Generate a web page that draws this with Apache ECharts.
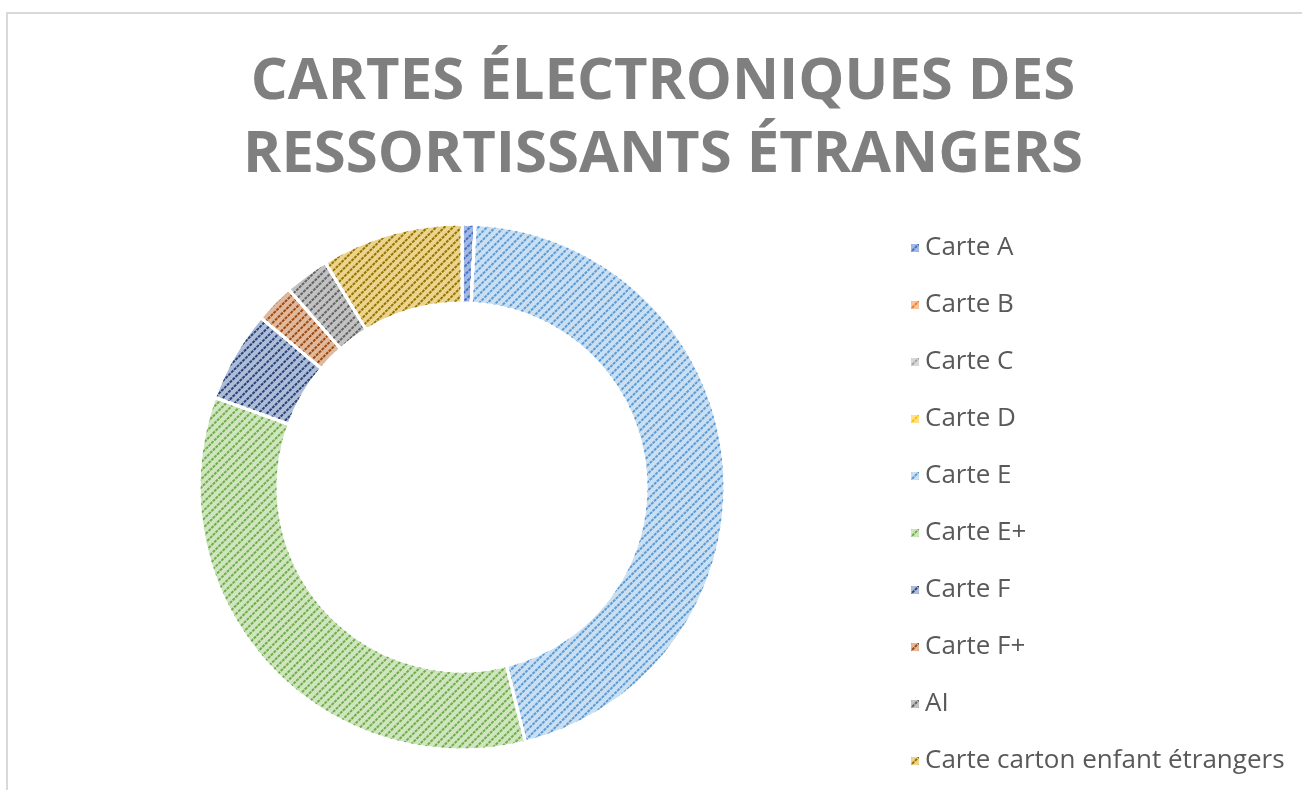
<!DOCTYPE html>
<html>
<head>
<meta charset="utf-8">
<script src="https://cdn.jsdelivr.net/npm/echarts@6/dist/echarts.min.js"></script>
<style>
  html, body { margin: 0; padding: 0; background: #fff; }
  #chart { width: 1302px; height: 790px; }
</style>
</head>
<body>
<div id="chart"></div>
<script>
var categories = ['Carte A', 'Carte B', 'Carte C', 'Carte D', 'Carte E', 'Carte E+',
                  'Carte F', 'Carte F+', 'AI', 'Carte carton enfant étrangers'];
var values = [0.8, 0, 0, 0, 45.3, 34.4, 5.6, 2.4, 2.75, 8.7];

// office palette: line colour and light background of the pattern fill
var lineColors = ['#4472C4', '#ED7D31', '#A5A5A5', '#FFC000', '#5B9BD5', '#70AD47',
                  '#264478', '#9E480E', '#636363', '#997300'];
var fillColors = ['#a3b9e4', '#f6c4a0', '#d8d8d8', '#ffe28f', '#cadff2', '#cfe5c0',
                  '#aebcd8', '#e0b89c', '#c2c2c2', '#ead48e'];

var data = categories.map(function (name, i) {
    return {
        name: name,
        value: values[i],
        itemStyle: {
            color: fillColors[i],
            decal: {
                symbol: 'rect',
                symbolSize: 1,
                color: lineColors[i],
                dashArrayX: [[3, 1]],
                dashArrayY: [2, 3.5],
                rotation: -Math.PI / 4
            }
        }
    };
});

option = {
    backgroundColor: '#fff',
    title: {
        text: 'CARTES ÉLECTRONIQUES DES\nRESSORTISSANTS ÉTRANGERS',
        left: 658,
        top: 41,
        textAlign: 'center',
        textStyle: {
            fontFamily: 'Open Sans',
            fontWeight: 'bold',
            fontSize: 58,
            lineHeight: 73,
            color: '#7f7f7f'
        }
    },
    legend: {
        orient: 'vertical',
        left: 904,
        top: 228,
        icon: 'rect',
        itemWidth: 10,
        itemHeight: 10,
        itemGap: 27,
        data: categories,
        textStyle: {
            fontFamily: 'Open Sans',
            fontSize: 26,
            lineHeight: 30,
            color: '#595959'
        }
    },
    graphic: [{
        type: 'rect',
        shape: { x: 7, y: 13, width: 1320, height: 800 },
        style: { fill: 'none', stroke: '#d9d9d9', lineWidth: 2 },
        silent: true
    }],
    series: [{
        type: 'pie',
        center: [462, 487],
        radius: [184, 263],
        startAngle: 90,
        clockwise: true,
        avoidLabelOverlap: false,
        label: { show: false },
        labelLine: { show: false },
        itemStyle: { borderColor: '#fff', borderWidth: 3 },
        data: data
    }]
};

var myChart = echarts.init(document.getElementById('chart'));
myChart.setOption(option, true);
</script>
</body>
</html>
